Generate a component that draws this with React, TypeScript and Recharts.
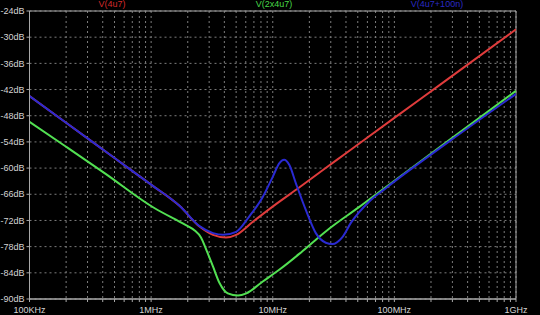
import React from 'react';
import {
  LineChart,
  Line,
  XAxis,
  YAxis,
  CartesianGrid,
  ReferenceArea,
} from 'recharts';

// frequencies in Hz, levels in dB
const redFreq = [1e5, 2e5, 5e5, 1e6, 1.72e6, 2.5e6, 3.23e6, 4.13e6, 5e6, 6.86e6, 1.07e7, 1.66e7, 2.57e7, 4e7, 1e8, 2.66e8, 1e9];
const redDb = [-43.5, -49.6, -57.7, -63.8, -68.7, -73.4, -75.3, -75.9, -75.3, -72.3, -68.2, -64.4, -60.5, -56.6, -48.5, -39.9, -28.2];

const greenFreq = [1e5, 2e5, 4.17e5, 1.07e6, 1.72e6, 2e6, 2.28e6, 2.57e6, 2.85e6, 3.23e6, 3.66e6, 4.27e6, 5.18e6, 6.07e6, 8.28e6, 1.13e7, 1.66e7, 2.2e7, 2.94e7, 5.15e7, 8e7, 2.79e8, 1e9];
const greenDb = [-49.4, -55.1, -61.2, -69.2, -72.3, -73.3, -74.3, -75.9, -78.8, -82.6, -86.4, -88.7, -89.2, -88.7, -86.0, -83.3, -79.6, -76.7, -73.8, -68.9, -64.9, -53.7, -42.3];

const blueFreq = [1e5, 2e5, 5e5, 1e6, 1.72e6, 2.5e6, 3.23e6, 3.9e6, 5e6, 6.4e6, 8.28e6, 1e7, 1.13e7, 1.24e7, 1.37e7, 1.55e7, 1.87e7, 2.26e7, 2.73e7, 3.09e7, 3.74e7, 4.4e7, 6.19e7, 8.5e7, 2.79e8, 1e9];
const blueDb = [-43.5, -49.6, -57.7, -63.8, -68.7, -73.3, -74.9, -75.3, -74.6, -71.1, -66.6, -62.0, -58.9, -58.1, -59.3, -63.5, -69.6, -74.9, -77.1, -77.4, -75.8, -72.5, -67.7, -64.6, -54.0, -43.0];

const xTicks = [
  1e5, 2e5, 3e5, 4e5, 5e5, 6e5, 7e5, 8e5, 9e5,
  1e6, 2e6, 3e6, 4e6, 5e6, 6e6, 7e6, 8e6, 9e6,
  1e7, 2e7, 3e7, 4e7, 5e7, 6e7, 7e7, 8e7, 9e7,
  1e8, 2e8, 3e8, 4e8, 5e8, 6e8, 7e8, 8e8, 9e8,
  1e9,
];
const xTickLabels: Record<number, string> = {
  1e5: '100KHz',
  1e6: '1MHz',
  1e7: '10MHz',
  1e8: '100MHz',
  1e9: '1GHz',
};
const yTicks = [-90, -84, -78, -72, -66, -60, -54, -48, -42, -36, -30, -24];

const toPoints = (freq: number[], db: number[]) =>
  freq.map((f, i) => ({ f, db: db[i] }));

const redData = toPoints(redFreq, redDb);
const greenData = toPoints(greenFreq, greenDb);
const blueData = toPoints(blueFreq, blueDb);

const font = '"Liberation Sans", Arial, sans-serif';
const axisColor = '#a8a8a8';
const tickStyle = { fontSize: 9, fill: '#d4d4d4', fontFamily: font };

const titleStyle: React.CSSProperties = {
  position: 'absolute',
  top: 0,
  fontSize: 9,
  lineHeight: '9px',
  fontFamily: font,
  transform: 'translateX(-50%)',
  whiteSpace: 'nowrap',
};

export default function App() {
  return (
    <div
      style={{
        position: 'fixed',
        left: 0,
        top: 0,
        width: 540,
        height: 315,
        background: '#000',
        overflow: 'hidden',
      }}
    >
      <LineChart
        width={540}
        height={315}
        margin={{ top: 11, right: 24, bottom: 0, left: 0 }}
      >
        <CartesianGrid stroke="#7c7c7c" strokeDasharray="2 3" />
        <XAxis
          dataKey="f"
          type="number"
          scale="log"
          domain={[1e5, 1e9]}
          allowDataOverflow
          ticks={xTicks}
          interval={0}
          height={16}
          tickSize={3}
          tickMargin={5}
          stroke={axisColor}
          tick={tickStyle}
          tickFormatter={(v: number) => xTickLabels[v] ?? ''}
        />
        <YAxis
          type="number"
          domain={[-90, -24]}
          ticks={yTicks}
          interval={0}
          width={29.5}
          tickSize={3}
          tickMargin={2}
          stroke={axisColor}
          tick={tickStyle}
          tickFormatter={(v: number) => `${v}dB`}
        />
        <ReferenceArea
          x1={1e5}
          x2={1e9}
          y1={-90}
          y2={-24}
          fill="none"
          stroke={axisColor}
          strokeWidth={1}
        />
        <Line
          data={redData}
          dataKey="db"
          type="monotone"
          stroke="#e03c3c"
          strokeWidth={2}
          dot={false}
          isAnimationActive={false}
        />
        <Line
          data={greenData}
          dataKey="db"
          type="monotone"
          stroke="#52e052"
          strokeWidth={2}
          dot={false}
          isAnimationActive={false}
        />
        <Line
          data={blueData}
          dataKey="db"
          type="monotone"
          stroke="#2a2ad2"
          strokeWidth={2}
          dot={false}
          isAnimationActive={false}
        />
      </LineChart>
      <span style={{ ...titleStyle, left: 112, color: '#d42a2a' }}>V(4u7)</span>
      <span style={{ ...titleStyle, left: 274, color: '#48d848' }}>V(2x4u7)</span>
      <span style={{ ...titleStyle, left: 437, color: '#2a2ac4' }}>V(4u7+100n)</span>
    </div>
  );
}
